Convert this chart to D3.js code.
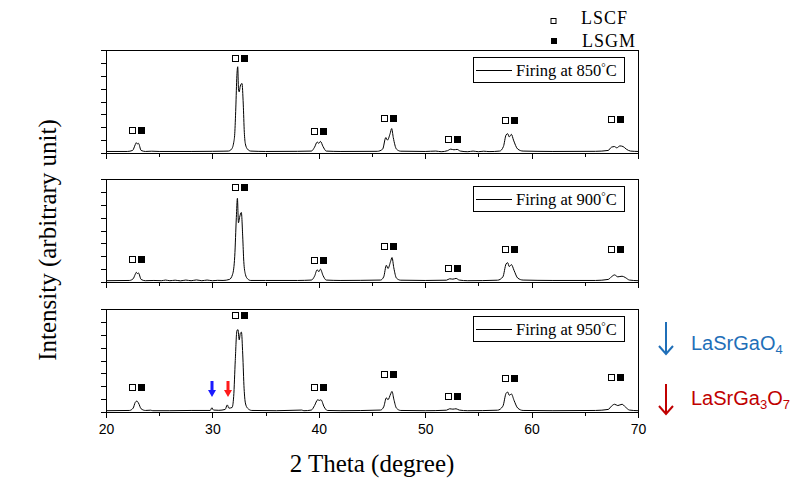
<!DOCTYPE html>
<meta charset="utf-8">
<style>
  body { margin: 0; background: #fff; }
  .trace { fill: none; stroke: #000; stroke-width: 1; }
  .axis path, .axis line { stroke: #000; shape-rendering: crispEdges; }
  .axis text { font-family: "Liberation Sans", Arial, sans-serif; font-size: 14px; fill: #000; }
</style>
<body></body>
<script src="https://d3js.org/d3.v7.min.js"></script>
<script>

// firing temperatures, one panel each
var firingTemps = ["850", "900", "950"];

// XRD traces: [2theta, intensity (arb.)]
var pattern850 = [[20,0.12],[22.0,0.12],[22.5,0.2],[22.75,0.65],[22.85,0.8],[22.95,0.7],[23.05,0.75],[23.3,0.2],[23.7,0.12],[24.3,0.14],[25,0.12],[28,0.12],[30,0.13],[31.0,0.14],
  [31.5,0.15],[31.8,0.3],[32.0,0.8],[32.1,1.5],[32.2,3.5],[32.3,6.0],[32.38,6.7],[32.45,5.0],[32.52,4.75],[32.62,5.2],[32.78,5.4],[32.9,3.8],[33.0,1.6],[33.1,0.7],[33.3,0.3],[33.6,0.15],
  [35,0.12],[38,0.13],[39.3,0.15],[39.6,0.45],[39.85,0.85],[40.0,0.75],[40.15,0.9],[40.4,0.5],[40.7,0.15],[42,0.12],[45.5,0.13],[46.0,0.3],[46.3,1.2],[46.45,1.0],[46.7,1.5],[46.85,1.9],[47.0,1.2],[47.3,0.3],[47.7,0.14],
  [50,0.12],[51,0.15],[51.5,0.1],[52.1,0.18],[52.4,0.3],[52.7,0.25],[53.0,0.28],[53.3,0.15],[54,0.1],[54.5,0.15],[55,0.1],[55.5,0.14],[56,0.11],[57.0,0.15],
  [57.35,0.5],[57.6,1.4],[57.75,1.5],[57.9,1.25],[58.1,1.45],[58.3,1.0],[58.7,0.3],[59.2,0.15],[62,0.12],[66,0.13],[67.2,0.2],[67.5,0.45],[67.8,0.5],[68.0,0.4],[68.3,0.55],[68.6,0.5],[68.9,0.3],[69.3,0.15],[70,0.12]];

var pattern900 = [[20,0.1],[22.2,0.12],[22.55,0.25],[22.75,0.6],[22.85,0.75],[22.95,0.65],[23.05,0.7],[23.3,0.2],[23.7,0.1],[24.5,0.12],[25.2,0.1],[25.6,0.15],[26.0,0.1],[26.5,0.14],[27.0,0.09],[27.5,0.15],[28.0,0.1],[28.5,0.16],[29.0,0.1],[29.5,0.15],[30.0,0.1],[30.5,0.13],[31.0,0.12],
  [31.6,0.2],[31.9,0.6],[32.1,2.0],[32.25,5.0],[32.35,6.5],[32.45,4.6],[32.55,5.0],[32.72,5.4],[32.85,3.5],[32.95,1.6],[33.1,0.6],[33.3,0.25],[33.6,0.12],
  [35,0.12],[38,0.12],[39.3,0.15],[39.6,0.45],[39.85,0.95],[40.0,0.8],[40.15,1.0],[40.4,0.5],[40.7,0.15],[42,0.12],[45.8,0.15],[46.1,0.4],[46.35,1.3],[46.5,1.05],[46.75,1.6],[46.88,1.9],[47.05,1.1],[47.3,0.3],[47.7,0.14],
  [50,0.12],[52.0,0.14],[52.3,0.25],[52.6,0.22],[52.9,0.28],[53.2,0.15],[54,0.1],[56.8,0.14],[57.3,0.4],[57.6,1.4],[57.75,1.5],[57.9,1.2],[58.1,1.35],[58.35,0.9],[58.7,0.3],[59.2,0.15],
  [62,0.12],[66,0.12],[67.2,0.2],[67.5,0.4],[67.8,0.55],[68.1,0.4],[68.5,0.45],[68.8,0.35],[69.2,0.15],[70,0.1]];

var pattern950 = [[20,0.1],[22.2,0.12],[22.55,0.3],[22.75,0.75],[22.9,0.85],[23.05,0.7],[23.3,0.25],[23.7,0.12],[24.2,0.14],[24.4,0.1],[26,0.1],[28,0.12],[29.8,0.12],[29.95,0.33],[30.1,0.15],[30.6,0.13],[31.2,0.2],[31.4,0.55],[31.55,0.3],[31.85,0.35],
  [32.0,1.2],[32.15,4.0],[32.3,6.3],[32.4,6.4],[32.52,5.6],[32.62,6.1],[32.73,6.2],[32.85,4.5],[32.98,1.8],[33.1,0.7],[33.3,0.3],[33.7,0.12],
  [36,0.1],[38.4,0.15],[38.6,0.1],[39.3,0.15],[39.6,0.5],[39.9,0.95],[40.05,0.9],[40.2,0.95],[40.5,0.4],[40.8,0.12],[42,0.1],[45.8,0.15],[46.1,0.4],[46.35,1.1],[46.5,0.95],[46.75,1.4],[46.88,1.6],[47.05,1.0],[47.3,0.3],[47.7,0.12],
  [50,0.1],[52.0,0.14],[52.3,0.25],[52.6,0.22],[52.9,0.25],[53.2,0.15],[54,0.1],[56.8,0.14],[57.3,0.45],[57.6,1.45],[57.75,1.55],[57.9,1.3],[58.1,1.4],[58.35,0.9],[58.7,0.3],[59.2,0.12],
  [62,0.1],[66,0.12],[67.2,0.2],[67.5,0.45],[67.8,0.6],[68.1,0.5],[68.5,0.6],[68.8,0.4],[69.2,0.15],[70,0.1]];

// LSCF / LSGM marker pairs above each reflection
var markerTheta = [22.9, 32.6, 40.05, 46.6, 52.65, 57.95, 67.9];
var markerHeight850 = [1.78, 7.39, 1.73, 2.74, 1.09, 2.56, 2.64];
var markerHeight900 = [1.78, 7.39, 1.70, 2.80, 1.10, 2.56, 2.60];
var markerHeight950 = [1.94, 7.50, 1.94, 2.95, 1.24, 2.64, 2.70];

// secondary phase peaks in the 950 trace
var impurityTheta = [29.95, 31.45];
var impurityColor = ["#1a1aff", "#ff1a1a"];

var xMajorTicks = [20, 30, 40, 50, 60, 70];
var xMinorTicks = [25, 35, 45, 55, 65];
var yTicks = [0, 1, 2, 3, 4, 5, 6, 7, 8];

var patterns = [pattern850, pattern900, pattern950];
var markerHeights = [markerHeight850, markerHeight900, markerHeight950];

var width = 807, height = 499;
var panelTop = [50, 179, 309], panelH = 103;

var svg = d3.select("body").append("svg")
    .attr("width", width)
    .attr("height", height);

var x = d3.scaleLinear().domain([20, 70]).range([106, 638]);

var line = d3.line()
    .x(function(d) { return x(d[0]); })
    .curve(d3.curveMonotoneX);

for (var p = 0; p < 3; p++) {
  var y0 = panelTop[p], y1 = y0 + panelH;
  var y = d3.scaleLinear().domain([0, 8]).range([y1, y0]);
  var g = svg.append("g");

  // frame (top + right)
  g.append("path")
    .attr("d", "M" + x(20) + "," + (y0 + 0.5) + "H" + (x(70) + 0.5) + "V" + y1)
    .attr("fill", "none").attr("stroke", "#000").attr("shape-rendering", "crispEdges");

  g.append("g").attr("class", "axis")
    .attr("transform", "translate(" + x(20) + ",0)")
    .call(d3.axisLeft(y).tickValues(yTicks).tickSize(5).tickSizeOuter(0).tickFormat(""));

  var xa = d3.axisBottom(x).tickValues(xMajorTicks).tickSize(6).tickSizeOuter(0).tickPadding(6);
  if (p < 2) xa.tickFormat("");
  g.append("g").attr("class", "axis")
    .attr("transform", "translate(0," + y1 + ")")
    .call(xa);
  g.append("g").attr("class", "axis")
    .attr("transform", "translate(0," + y1 + ")")
    .call(d3.axisBottom(x).tickValues(xMinorTicks).tickSize(4).tickSizeOuter(0).tickFormat(""))
    .select(".domain").remove();

  line.y(function(d) { return y(d[1]); });
  g.append("path").datum(patterns[p]).attr("class", "trace").attr("d", line);

  // marker pairs
  var mh = markerHeights[p];
  var mk = g.selectAll(".mk").data(markerTheta).enter().append("g")
    .attr("transform", function(d, i) { return "translate(" + Math.round(x(d)) + "," + Math.round(y(mh[i])) + ")"; });
  mk.append("rect").attr("x", -7.5).attr("y", -2.5).attr("width", 6).attr("height", 6)
    .attr("fill", "#fff").attr("stroke", "#000");
  mk.append("rect").attr("x", 1).attr("y", -3).attr("width", 7).attr("height", 7).attr("fill", "#000");

  // legend box
  var ly = y0 + 7;
  g.append("rect").attr("x", 473.5).attr("y", ly + 0.5).attr("width", 151).attr("height", 25)
    .attr("fill", "#fff").attr("stroke", "#000");
  g.append("line").attr("x1", 476).attr("x2", 512).attr("y1", ly + 13.5).attr("y2", ly + 13.5).attr("stroke", "#000");
  var t = g.append("text").attr("x", 516).attr("y", ly + 19)
    .attr("font-family", "'Liberation Serif', 'Times New Roman', serif").attr("font-size", 16.5);
  t.append("tspan").text("Firing at " + firingTemps[p]);
  t.append("tspan").attr("font-size", 11).attr("dy", -5).text("°");
  t.append("tspan").attr("dy", 5).text("C");

  if (p === 2) {
    // small arrows at secondary phase peaks
    impurityTheta.forEach(function(th, i) {
      var cx = Math.round(x(th)), a0 = 381, a1 = 397;
      g.append("path")
        .attr("d", "M" + (cx - 1.5) + "," + a0 + "V" + (a1 - 7) + "H" + (cx - 4) + "L" + cx + "," + a1 + "L" + (cx + 4) + "," + (a1 - 7) + "H" + (cx + 1.5) + "V" + a0 + "Z")
        .attr("fill", impurityColor[i]);
    });
  }
}

// top legend
var serif = "'Liberation Serif', 'Times New Roman', serif";
svg.append("rect").attr("x", 551).attr("y", 18.5).attr("width", 5).attr("height", 5).attr("fill", "#fff").attr("stroke", "#000");
svg.append("rect").attr("x", 551).attr("y", 38).attr("width", 6).attr("height", 6).attr("fill", "#000");
svg.append("text").attr("x", 581).attr("y", 24).attr("font-family", serif).attr("font-size", 18).attr("letter-spacing", 1).text("LSCF");
svg.append("text").attr("x", 582).attr("y", 46.5).attr("font-family", serif).attr("font-size", 18).attr("letter-spacing", 1).text("LSGM");

// axis titles
svg.append("text").attr("x", 372).attr("y", 472).attr("text-anchor", "middle")
  .attr("font-family", serif).attr("font-size", 25).text("2 Theta (degree)");
svg.append("text").attr("transform", "translate(56,240) rotate(-90)").attr("text-anchor", "middle")
  .attr("font-family", serif).attr("font-size", 25).text("Intensity (arbitrary unit)");

// phase annotations on the right
var sans = "'Liberation Sans', Arial, sans-serif";
var phases = [
  {y0: 322, y1: 354, ty: 350, color: "#1f6fb8", name: "LaSrGaO", subs: [["4", ""]]},
  {y0: 384, y1: 414, ty: 405, color: "#c00000", name: "LaSrGa", subs: [["3", "O"], ["7", ""]]}
];
phases.forEach(function(ph) {
  svg.append("path")
    .attr("d", "M666," + ph.y0 + "V" + ph.y1 + "M659," + (ph.y1 - 8) + "L666," + ph.y1 + "L673," + (ph.y1 - 8))
    .attr("fill", "none").attr("stroke", ph.color).attr("stroke-width", 2);
  var tx = svg.append("text").attr("x", 691).attr("y", ph.ty).attr("font-family", sans).attr("font-size", 20).attr("fill", ph.color);
  tx.append("tspan").text(ph.name);
  ph.subs.forEach(function(s) {
    tx.append("tspan").attr("font-size", 13).attr("dy", 4).text(s[0]);
    if (s[1]) tx.append("tspan").attr("dy", -4).text(s[1]);
  });
});

</script>
